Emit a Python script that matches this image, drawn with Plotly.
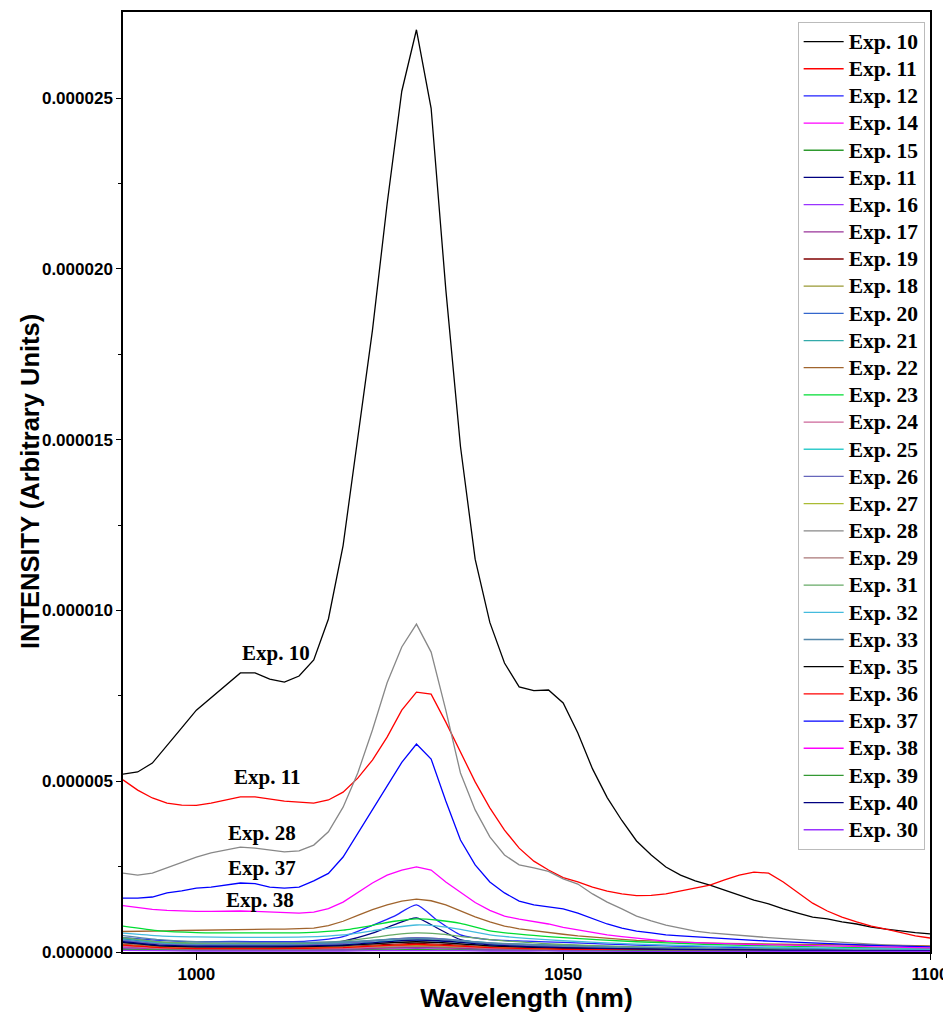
import plotly.graph_objects as go

SCALE = 1e-6  # values below are in units of 1e-6

# Fine wavelength grid (nm) for the large curves
wl_fine = [990, 992, 994, 996, 998, 1000, 1002, 1004, 1006, 1008,
           1010, 1012, 1014, 1016, 1018, 1020, 1022, 1024, 1026, 1028,
           1030, 1032, 1034, 1036, 1038, 1040, 1042, 1044, 1046, 1048,
           1050, 1052, 1054, 1056, 1058, 1060, 1062, 1064, 1066, 1068,
           1070, 1072, 1074, 1076, 1078, 1080, 1082, 1084, 1086, 1088,
           1090, 1092, 1094, 1096, 1098, 1100]

# Coarse wavelength grid (nm) for the small curves
wl_coarse = [990, 995, 1000, 1005, 1010, 1015, 1020, 1024, 1027, 1030,
             1033, 1036, 1040, 1045, 1050, 1060, 1070, 1080, 1090, 1100]

exp10 = [5.21, 5.27, 5.53, 6.03, 6.56, 7.08, 7.44, 7.79, 8.17, 8.17,
         7.99, 7.90, 8.08, 8.55, 9.75, 11.9, 15.0, 18.2, 21.9, 25.2,
         27.0, 24.7, 19.4, 14.8, 11.5, 9.65, 8.46, 7.76, 7.65, 7.67,
         7.29, 6.41, 5.36, 4.52, 3.85, 3.25, 2.84, 2.49, 2.25, 2.08,
         1.96, 1.82, 1.67, 1.52, 1.41, 1.26, 1.14, 1.02, 0.97, 0.88,
         0.82, 0.73, 0.67, 0.61, 0.57, 0.53]

exp11 = [5.04, 4.74, 4.51, 4.36, 4.30, 4.29, 4.36, 4.45, 4.54, 4.54,
         4.48, 4.42, 4.39, 4.36, 4.45, 4.68, 5.09, 5.62, 6.29, 7.08,
         7.61, 7.55, 6.73, 5.83, 4.98, 4.22, 3.57, 3.04, 2.66, 2.40,
         2.18, 2.05, 1.90, 1.78, 1.70, 1.65, 1.66, 1.70, 1.78, 1.87,
         1.96, 2.11, 2.25, 2.34, 2.31, 2.05, 1.73, 1.43, 1.20, 1.02,
         0.88, 0.76, 0.67, 0.56, 0.47, 0.41]

exp28 = [2.31, 2.25, 2.31, 2.46, 2.61, 2.78, 2.90, 2.99, 3.07, 3.04,
         2.99, 2.93, 2.96, 3.13, 3.52, 4.24, 5.24, 6.50, 7.88, 8.93,
         9.60, 8.78, 7.08, 5.24, 4.16, 3.37, 2.84, 2.55, 2.46, 2.36,
         2.14, 1.99, 1.70, 1.46, 1.26, 1.05, 0.91, 0.79, 0.70, 0.61,
         0.56, 0.52, 0.48, 0.45, 0.42, 0.39, 0.36, 0.33, 0.30, 0.28,
         0.25, 0.23, 0.21, 0.19, 0.17, 0.15]

exp37 = [1.58, 1.58, 1.61, 1.73, 1.79, 1.87, 1.90, 1.96, 2.02, 2.00,
         1.90, 1.87, 1.90, 2.08, 2.30, 2.78, 3.48, 4.16, 4.86, 5.55,
         6.09, 5.65, 4.42, 3.28, 2.55, 2.05, 1.73, 1.49, 1.38, 1.32,
         1.26, 1.14, 0.97, 0.82, 0.70, 0.61, 0.56, 0.50, 0.47, 0.44,
         0.41, 0.38, 0.36, 0.34, 0.32, 0.30, 0.28, 0.26, 0.24, 0.22,
         0.20, 0.19, 0.18, 0.17, 0.16, 0.15]

exp38 = [1.36, 1.30, 1.25, 1.22, 1.20, 1.19, 1.19, 1.20, 1.20, 1.19,
         1.17, 1.15, 1.14, 1.17, 1.27, 1.46, 1.73, 2.02, 2.25, 2.40,
         2.49, 2.40, 2.05, 1.75, 1.45, 1.22, 1.05, 0.96, 0.90, 0.82,
         0.72, 0.64, 0.57, 0.50, 0.45, 0.40, 0.36, 0.32, 0.29, 0.27,
         0.25, 0.24, 0.23, 0.22, 0.21, 0.20, 0.19, 0.18, 0.17, 0.16,
         0.15, 0.14, 0.13, 0.13, 0.12, 0.12]

exp22 = [0.60, 0.60, 0.61, 0.62, 0.63, 0.64, 0.65, 0.66, 0.67, 0.67,
         0.67, 0.67, 0.68, 0.70, 0.77, 0.90, 1.07, 1.24, 1.38, 1.49,
         1.55, 1.50, 1.38, 1.20, 1.03, 0.88, 0.76, 0.68, 0.62, 0.57,
         0.52, 0.47, 0.43, 0.40, 0.37, 0.34, 0.32, 0.30, 0.28, 0.27,
         0.26, 0.25, 0.24, 0.24, 0.23, 0.23, 0.22, 0.22, 0.21, 0.21,
         0.20, 0.20, 0.19, 0.19, 0.18, 0.18]

exp12 = [0.42, 0.34, 0.30, 0.31, 0.30, 0.32, 0.45, 0.78, 1.05, 1.38, 0.90, 0.50, 0.36, 0.32, 0.28, 0.20, 0.15, 0.11, 0.09, 0.07]
exp14 = [0.12, 0.10, 0.09, 0.09, 0.09, 0.09, 0.10, 0.12, 0.14, 0.15, 0.15, 0.14, 0.13, 0.12, 0.11, 0.09, 0.07, 0.06, 0.05, 0.05]
exp15 = [0.26, 0.16, 0.12, 0.11, 0.11, 0.11, 0.12, 0.14, 0.15, 0.16, 0.15, 0.14, 0.12, 0.10, 0.09, 0.07, 0.05, 0.04, 0.04, 0.03]
exp11b = [0.38, 0.27, 0.22, 0.22, 0.22, 0.23, 0.32, 0.55, 0.80, 1.00, 0.68, 0.36, 0.24, 0.20, 0.17, 0.13, 0.10, 0.08, 0.06, 0.05]
exp16 = [0.10, 0.07, 0.06, 0.06, 0.06, 0.06, 0.07, 0.08, 0.09, 0.10, 0.09, 0.08, 0.07, 0.06, 0.05, 0.04, 0.03, 0.03, 0.02, 0.02]
exp17 = [0.15, 0.10, 0.08, 0.08, 0.08, 0.08, 0.09, 0.11, 0.12, 0.13, 0.12, 0.11, 0.09, 0.08, 0.07, 0.05, 0.04, 0.03, 0.03, 0.02]
exp19 = [0.22, 0.15, 0.12, 0.12, 0.12, 0.13, 0.16, 0.20, 0.23, 0.25, 0.23, 0.20, 0.15, 0.12, 0.10, 0.07, 0.05, 0.04, 0.03, 0.03]
exp18 = [0.18, 0.12, 0.10, 0.10, 0.10, 0.10, 0.12, 0.14, 0.16, 0.17, 0.16, 0.14, 0.12, 0.10, 0.08, 0.06, 0.05, 0.04, 0.03, 0.03]
exp20 = [0.33, 0.25, 0.22, 0.22, 0.22, 0.23, 0.27, 0.33, 0.38, 0.40, 0.38, 0.33, 0.26, 0.22, 0.20, 0.14, 0.10, 0.08, 0.06, 0.05]
exp21 = [0.40, 0.28, 0.24, 0.24, 0.24, 0.25, 0.28, 0.34, 0.38, 0.41, 0.39, 0.34, 0.27, 0.22, 0.18, 0.13, 0.10, 0.08, 0.06, 0.05]
exp23 = [0.76, 0.62, 0.57, 0.56, 0.56, 0.57, 0.64, 0.78, 0.90, 0.97, 0.93, 0.84, 0.62, 0.50, 0.42, 0.30, 0.22, 0.17, 0.13, 0.11]
exp24 = [0.17, 0.11, 0.09, 0.09, 0.09, 0.09, 0.11, 0.14, 0.17, 0.19, 0.18, 0.15, 0.11, 0.09, 0.07, 0.05, 0.04, 0.03, 0.03, 0.02]
exp25 = [0.36, 0.25, 0.20, 0.20, 0.20, 0.21, 0.24, 0.29, 0.33, 0.35, 0.33, 0.29, 0.23, 0.18, 0.15, 0.11, 0.08, 0.06, 0.05, 0.04]
exp26 = [0.35, 0.24, 0.20, 0.20, 0.20, 0.21, 0.25, 0.32, 0.38, 0.42, 0.39, 0.33, 0.25, 0.19, 0.15, 0.10, 0.08, 0.06, 0.05, 0.04]
exp27 = [0.21, 0.14, 0.11, 0.11, 0.11, 0.12, 0.14, 0.17, 0.19, 0.20, 0.19, 0.17, 0.14, 0.11, 0.09, 0.07, 0.05, 0.04, 0.03, 0.03]
exp29 = [0.25, 0.17, 0.14, 0.14, 0.14, 0.15, 0.18, 0.23, 0.27, 0.29, 0.27, 0.23, 0.18, 0.14, 0.11, 0.08, 0.06, 0.05, 0.04, 0.03]
exp31 = [0.42, 0.30, 0.26, 0.26, 0.26, 0.27, 0.32, 0.42, 0.51, 0.56, 0.53, 0.46, 0.36, 0.28, 0.22, 0.15, 0.11, 0.08, 0.07, 0.05]
exp32 = [0.55, 0.47, 0.44, 0.43, 0.43, 0.44, 0.50, 0.62, 0.72, 0.79, 0.76, 0.66, 0.50, 0.40, 0.33, 0.23, 0.17, 0.13, 0.10, 0.08]
exp33 = [0.48, 0.36, 0.30, 0.29, 0.28, 0.28, 0.30, 0.34, 0.37, 0.38, 0.36, 0.32, 0.27, 0.22, 0.18, 0.13, 0.10, 0.08, 0.06, 0.05]
exp35 = [0.28, 0.18, 0.15, 0.15, 0.15, 0.16, 0.19, 0.24, 0.28, 0.30, 0.28, 0.24, 0.18, 0.14, 0.11, 0.08, 0.06, 0.05, 0.04, 0.03]
exp36 = [0.20, 0.13, 0.10, 0.10, 0.10, 0.11, 0.13, 0.17, 0.20, 0.22, 0.20, 0.17, 0.13, 0.10, 0.08, 0.06, 0.05, 0.04, 0.03, 0.02]
exp39 = [0.08, 0.06, 0.05, 0.05, 0.05, 0.05, 0.05, 0.06, 0.06, 0.07, 0.06, 0.06, 0.05, 0.05, 0.04, 0.04, 0.03, 0.03, 0.03, 0.02]
exp40 = [0.30, 0.20, 0.17, 0.17, 0.17, 0.18, 0.21, 0.27, 0.32, 0.35, 0.33, 0.28, 0.21, 0.16, 0.13, 0.09, 0.07, 0.05, 0.04, 0.04]
exp30 = [0.05, 0.04, 0.03, 0.03, 0.03, 0.03, 0.03, 0.04, 0.04, 0.04, 0.04, 0.04, 0.03, 0.03, 0.03, 0.02, 0.02, 0.02, 0.02, 0.02]

# (legend name, data, grid, colour) in legend order
series = [
    ("Exp. 10", exp10, "fine", "#000000"),
    ("Exp. 11", exp11, "fine", "#FF0000"),
    ("Exp. 12", exp12, "coarse", "#2020FF"),
    ("Exp. 14", exp14, "coarse", "#FF00FF"),
    ("Exp. 15", exp15, "coarse", "#2E9A2E"),
    ("Exp. 11", exp11b, "coarse", "#000080"),
    ("Exp. 16", exp16, "coarse", "#9933FF"),
    ("Exp. 17", exp17, "coarse", "#993399"),
    ("Exp. 19", exp19, "coarse", "#800000"),
    ("Exp. 18", exp18, "coarse", "#999933"),
    ("Exp. 20", exp20, "coarse", "#3366CC"),
    ("Exp. 21", exp21, "coarse", "#33AAAA"),
    ("Exp. 22", exp22, "fine", "#A0642D"),
    ("Exp. 23", exp23, "coarse", "#00DD33"),
    ("Exp. 24", exp24, "coarse", "#CC6699"),
    ("Exp. 25", exp25, "coarse", "#33CCCC"),
    ("Exp. 26", exp26, "coarse", "#6666BB"),
    ("Exp. 27", exp27, "coarse", "#AABB33"),
    ("Exp. 28", exp28, "fine", "#888888"),
    ("Exp. 29", exp29, "coarse", "#AA7777"),
    ("Exp. 31", exp31, "coarse", "#66AA66"),
    ("Exp. 32", exp32, "coarse", "#44BBDD"),
    ("Exp. 33", exp33, "coarse", "#5588AA"),
    ("Exp. 35", exp35, "coarse", "#000000"),
    ("Exp. 36", exp36, "coarse", "#FF0000"),
    ("Exp. 37", exp37, "fine", "#0000FF"),
    ("Exp. 38", exp38, "fine", "#FF00FF"),
    ("Exp. 39", exp39, "coarse", "#339933"),
    ("Exp. 40", exp40, "coarse", "#000080"),
    ("Exp. 30", exp30, "coarse", "#9933FF"),
]

# Curve labels placed in the plot: (text, wavelength, intensity in 1e-6)
labels = [
    ("Exp. 10", 1010.8, 8.75),
    ("Exp. 11", 1009.7, 5.12),
    ("Exp. 28", 1009.0, 3.48),
    ("Exp. 37", 1008.9, 2.46),
    ("Exp. 38", 1008.7, 1.52),
]

fig = go.Figure()
for name, vals, grid, color in series:
    xs = wl_fine if grid == "fine" else wl_coarse
    fig.add_trace(go.Scatter(
        x=xs, y=[v * SCALE for v in vals], mode="lines",
        name="<span style='font-size:21.5px'>" + name + "</span>",
        line=dict(color=color, width=1.3,
                  shape="linear" if grid == "fine" else "spline", smoothing=0.6),
    ))

for text, x, y in labels:
    fig.add_annotation(x=x, y=y * SCALE, text=text, showarrow=False,
                       font=dict(family="Liberation Serif", size=21, color="black", weight="bold"))

# Y-axis title (placed as rotated paper-anchored text)
fig.add_annotation(text="INTENSITY (Arbitrary Units)", xref="paper", yref="paper",
                   x=-0.1152, y=0.5, xanchor="center", yanchor="middle",
                   textangle=-90, showarrow=False,
                   font=dict(family="Liberation Sans", size=25.5, color="black", weight="bold"))

axis_font = dict(family="Liberation Sans", size=17, color="black", weight="bold")
fig.update_layout(
    # the page body adds an 8px offset, so the figure is 8px smaller each way
    width=943, height=1005,
    margin=dict(l=115, r=21, t=4, b=61),
    paper_bgcolor="white", plot_bgcolor="white",
    showlegend=True,
    legend=dict(
        x=0.836, y=0.9894, xanchor="left", yanchor="top",
        bgcolor="white", bordercolor="#BBBBBB", borderwidth=1,
        font=dict(family="Liberation Serif", size=18.6, color="black", weight="bold"),
        tracegroupgap=0, itemwidth=40,
    ),
    xaxis=dict(
        range=[990, 1100], showgrid=False, zeroline=False, automargin=False,
        showline=True, linecolor="black", linewidth=1.5, mirror=True,
        ticks="outside", ticklen=6, tickwidth=1.2, tickcolor="black",
        tickvals=[1000, 1050, 1100], ticktext=["1000", "1050", "1100"],
        minor=dict(tickvals=[1025, 1075], ticks="outside", ticklen=4, tickcolor="black"),
        tickfont=axis_font,
        title=dict(text="Wavelength (nm)", standoff=12,
                   font=dict(family="Liberation Sans", size=26.5, color="black", weight="bold")),
    ),
    yaxis=dict(
        range=[0, 2.752e-5], showgrid=False, zeroline=False, automargin=False,
        showline=True, linecolor="black", linewidth=1.5, mirror=True,
        ticks="outside", ticklen=5, tickwidth=1.2, tickcolor="black",
        tickvals=[0, 5e-6, 1e-5, 1.5e-5, 2e-5, 2.5e-5],
        ticktext=["0.000000", "0.000005", "0.000010", "0.000015", "0.000020", "0.000025"],
        minor=dict(tickvals=[2.5e-6, 7.5e-6, 1.25e-5, 1.75e-5, 2.25e-5], ticks="outside",
                   ticklen=3, tickcolor="black"),
        tickfont=axis_font,
    ),
)

fig.write_html("out.html")
